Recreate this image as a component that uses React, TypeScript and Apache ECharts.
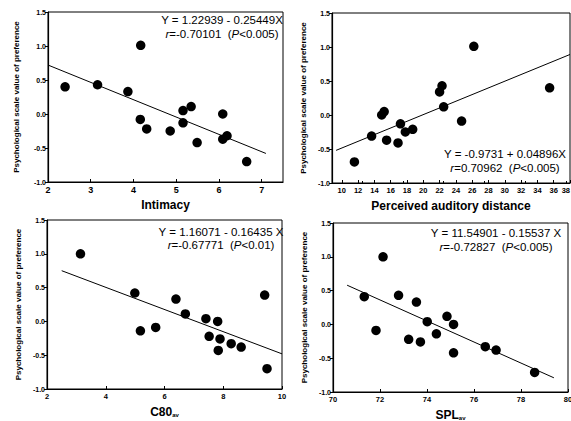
import React, { useEffect, useRef } from "react";
import * as echarts from "echarts";

// ---- data ----
const intimacy = [2.4, 3.16, 3.87, 4.17, 4.16, 4.31, 4.86, 5.16, 5.35, 5.16, 5.49, 6.09, 6.09, 6.19, 6.65];
const prefIntimacy = [0.4, 0.43, 0.33, 1.01, -0.08, -0.22, -0.25, 0.05, 0.11, -0.13, -0.42, 0.0, -0.37, -0.32, -0.7];

const distance = [11.55, 13.66, 14.9, 15.2, 15.5, 16.9, 17.2, 17.8, 18.7, 22.0, 22.3, 22.5, 24.7, 26.2, 35.5];
const prefDistance = [-0.69, -0.31, 0.0, 0.05, -0.37, -0.41, -0.13, -0.25, -0.21, 0.34, 0.43, 0.12, -0.09, 1.01, 0.4];

const c80 = [3.14, 4.99, 5.18, 5.7, 6.39, 6.71, 7.41, 7.81, 7.52, 7.89, 7.83, 8.27, 8.61, 9.41, 9.49];
const prefC80 = [1.0, 0.42, -0.14, -0.09, 0.33, 0.11, 0.04, 0.0, -0.22, -0.26, -0.43, -0.33, -0.38, 0.39, -0.7];

const spl = [71.33, 72.13, 71.83, 72.79, 73.22, 73.55, 73.72, 74.01, 74.4, 74.85, 75.13, 75.13, 76.48, 76.94, 78.58];
const prefSpl = [0.41, 1.0, -0.09, 0.43, -0.22, 0.33, -0.26, 0.04, -0.14, 0.12, 0.0, -0.42, -0.33, -0.38, -0.71];

// regression line end points
const fit1X = [2.0, 7.1];
const fit1Y = [0.72, -0.58];
const fit2X = [9.3, 38];
const fit2Y = [-0.52, 0.89];
const fit3X = [2.5, 10];
const fit3Y = [0.75, -0.48];
const fit4X = [70.6, 79.4];
const fit4Y = [0.58, -0.79];

// tick labels
const ticks1 = [2, 3, 4, 5, 6, 7];
const ticks2 = [10, 12, 14, 16, 18, 20, 22, 24, 26, 28, 30, 32, 34, 36, 38];
const ticks3 = [2, 4, 6, 8, 10];
const ticks4 = [70, 72, 74, 76, 78, 80];

const xNames = ["Intimacy", "Perceived auditory distance", "C80{s|av}", "SPL{s|av}"];
const yName = "Psychological scale value of preference";
const eq1 = ["Y = 1.22939 - 0.25449X", "{i|r}=-0.70101  ({i|P}<0.005)"];
const eq2 = ["Y = -0.9731 + 0.04896X", "{i|r}=0.70962  ({i|P}<0.005)"];
const eq3 = ["Y = 1.16071 - 0.16435 X", "{i|r}=-0.67771  ({i|P}<0.01)"];
const eq4 = ["Y = 11.54901 - 0.15537 X", "{i|r}=-0.72827  ({i|P}<0.005)"];

const FONT = "'Liberation Sans', Arial, Helvetica, sans-serif";

const zip = (a: number[], b: number[]) => a.map((v, i) => [v, b[i]]);

export default function App() {
  const ref = useRef<HTMLDivElement>(null);
  useEffect(() => {
    if (!ref.current) return;
    const chart = echarts.init(ref.current, null, { renderer: "svg" });

    const grids = [
      { left: 48, top: 12, width: 235, height: 170 },
      { left: 332, top: 13, width: 238, height: 170 },
      { left: 47, top: 220, width: 235, height: 169 },
      { left: 333, top: 223, width: 235, height: 169 },
    ].map((g) => ({
      ...g,
      show: true,
      borderColor: "#000",
      borderWidth: 1,
      backgroundColor: "transparent",
      containLabel: false,
      outerBoundsMode: "none",
    }));

    const xCfg = [
      { min: 2, max: 7.5, ticks: ticks1, fs: 9 },
      { min: 8.8, max: 38, ticks: ticks2, fs: 7.5 },
      { min: 2, max: 10, ticks: ticks3, fs: 7.5 },
      { min: 70, max: 80, ticks: ticks4, fs: 7.5 },
    ];

    const xAxis = xCfg.map((c, i) => ({
      type: "value",
      gridIndex: i,
      min: c.min,
      max: c.max,
      splitLine: { show: false },
      axisLine: { show: true, onZero: false, lineStyle: { color: "#000", width: 1.2 } },
      axisTick: { show: true, inside: true, length: 3, customValues: c.ticks, lineStyle: { color: "#000" } },
      minorTick: { show: i === 1, splitNumber: 2, length: 2, lineStyle: { color: "#000" } },
      axisLabel: {
        customValues: c.ticks,
        color: "#000",
        fontSize: c.fs,
        fontWeight: "bold",
        fontFamily: FONT,
        margin: 3,
        alignMaxLabel: i === 1 ? "right" : undefined,
      },
      name: xNames[i],
      nameLocation: "middle",
      nameGap: 17,
      nameTextStyle: {
        color: "#000",
        fontSize: 12,
        fontWeight: "bold",
        fontFamily: FONT,
        rich: {
          s: { fontSize: 6, fontWeight: "bold", fontFamily: FONT, color: "#000", verticalAlign: "bottom", padding: [6, 0, 0, 0] },
        },
      },
    }));

    const yAxis = [0, 1, 2, 3].map((i) => ({
      type: "value",
      gridIndex: i,
      min: -1,
      max: 1.5,
      interval: 0.5,
      splitLine: { show: false },
      axisLine: { show: true, onZero: false, lineStyle: { color: "#000", width: 1.2 } },
      axisTick: { show: true, inside: false, length: 3, lineStyle: { color: "#000" } },
      axisLabel: {
        color: "#000",
        fontSize: 7,
        fontWeight: "bold",
        fontFamily: FONT,
        margin: 2,
        formatter: (v: number) => v.toFixed(1),
      },
      name: yName,
      nameLocation: "middle",
      nameGap: i === 0 ? 28 : 25,
      nameRotate: 90,
      nameTextStyle: { color: "#000", fontSize: 8, fontWeight: "bold", fontFamily: FONT },
    }));

    const pts = [zip(intimacy, prefIntimacy), zip(distance, prefDistance), zip(c80, prefC80), zip(spl, prefSpl)];
    const fits = [zip(fit1X, fit1Y), zip(fit2X, fit2Y), zip(fit3X, fit3Y), zip(fit4X, fit4Y)];

    const series: any[] = [];
    for (let i = 0; i < 4; i++) {
      series.push({
        type: "line",
        xAxisIndex: i,
        yAxisIndex: i,
        data: fits[i],
        symbol: "none",
        lineStyle: { color: "#000", width: 1 },
        silent: true,
      });
      series.push({
        type: "scatter",
        xAxisIndex: i,
        yAxisIndex: i,
        data: pts[i],
        symbolSize: 9.5,
        itemStyle: { color: "#000", opacity: 1 },
      });
    }

    const eqPos = [
      { x: 222, y: 27, t: eq1 },
      { x: 505, y: 161, t: eq2 },
      { x: 221, y: 238.5, t: eq3 },
      { x: 496, y: 240, t: eq4 },
    ];
    const graphic: any[] = eqPos.map((p) => ({
      type: "text",
      x: p.x,
      y: p.y,
      style: {
        text: p.t[0] + "\n" + p.t[1],
        fill: "#000",
        font: `11.5px ${FONT}`,
        lineHeight: 13.5,
        align: "center",
        verticalAlign: "middle",
        rich: {
          i: { fontStyle: "italic", fontSize: 11.5, fontFamily: FONT, fill: "#000", lineHeight: 13.5 },
        },
      },
    }));

    chart.setOption({
      animation: false,
      backgroundColor: "#fff",
      grid: grids,
      xAxis,
      yAxis,
      series,
      graphic,
    });
    return () => chart.dispose();
  }, []);

  return (
    <div
      ref={ref}
      style={{ position: "absolute", left: 0, top: 0, width: 571, height: 421, background: "#fff" }}
    />
  );
}
